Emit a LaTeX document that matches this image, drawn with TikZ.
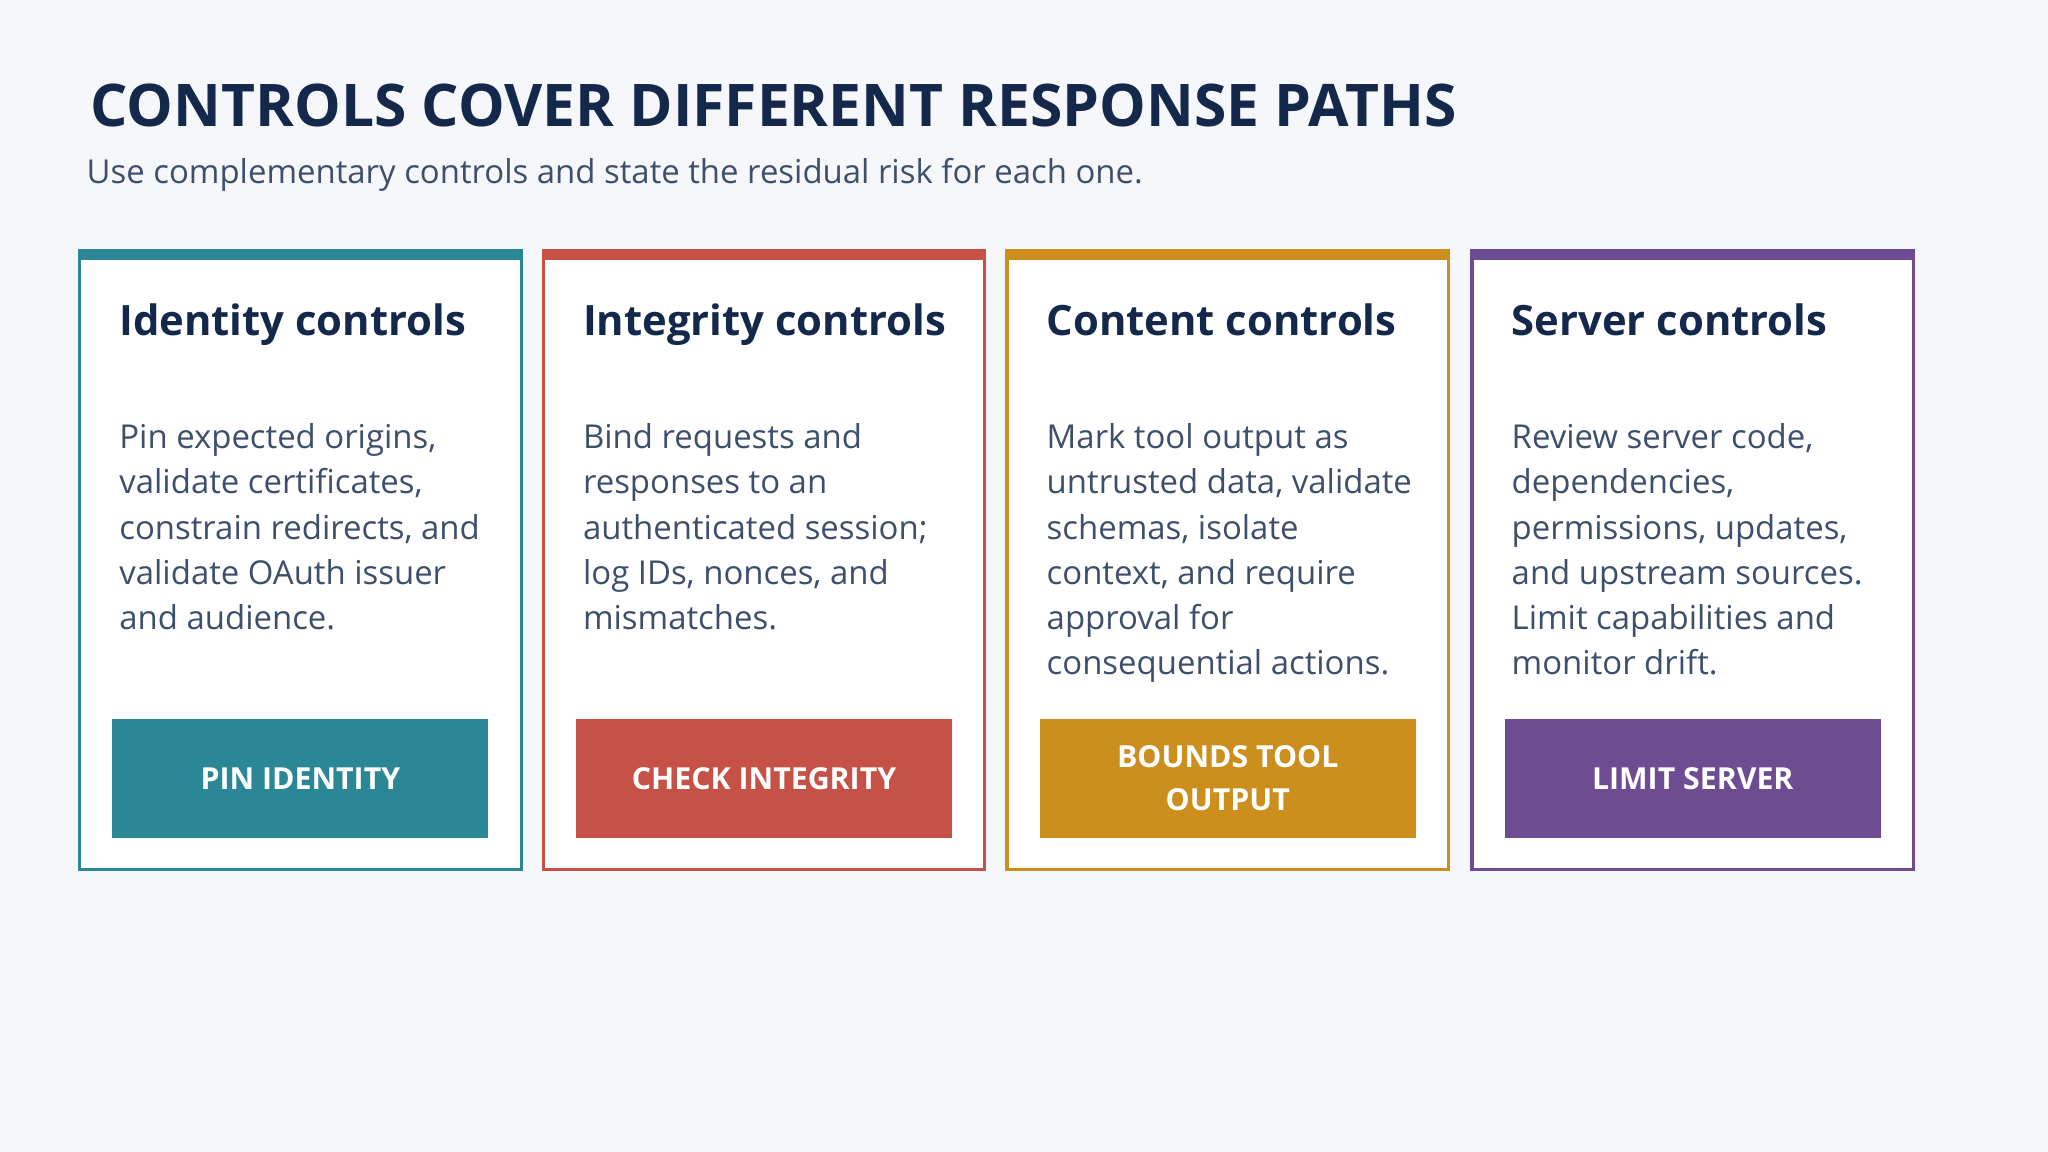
\documentclass[tikz,border=0pt]{standalone}
\usepackage{fontspec}
\setmainfont{Open Sans}
\definecolor{bgpage}{HTML}{F5F7FA}
\definecolor{navy}{HTML}{14284B}
\definecolor{bodytxt}{HTML}{3D4F6B}
\definecolor{cteal}{HTML}{2B8795}
\definecolor{cred}{HTML}{C65146}
\definecolor{camber}{HTML}{CC8F1E}
\definecolor{cpurple}{HTML}{6D4C91}
\tikzset{
  card/.style={draw=#1, line width=1.2pt, fill=white},
  cardhead/.style={anchor=base west, inner sep=0pt, font=\fontsize{16}{19}\selectfont\bfseries, text=navy},
  cardbody/.style={anchor=north west, inner sep=0pt, align=left, font=\fontsize{12.6}{17.3}\selectfont, text=bodytxt},
  cardbtn/.style={fill=#1, text=white, minimum width=144pt, minimum height=45.5pt, inner sep=0pt, align=center, font=\fontsize{11.6}{16.5}\selectfont\bfseries},
}
\begin{document}
\begin{tikzpicture}[x=0.5pt,y=0.5pt,yscale=-1]
\useasboundingbox[fill=bgpage] (0,0) rectangle (1568,882);

% Title
\node (title) [anchor=west, inner sep=0pt, font=\fontsize{22.5}{27}\selectfont\bfseries, text=navy] at (69,81) {CONTROLS COVER DIFFERENT RESPONSE PATHS};
\node (subtitle) [anchor=west, inner sep=0pt, font=\fontsize{12.6}{15}\selectfont, text=bodytxt] at (66,134) {Use complementary controls and state the residual risk for each one.};

% Cards
\foreach \x/\col/\nm/\head/\body/\btn in {
  61/cteal/ident/Identity controls/{Pin expected origins,\\validate certificates,\\constrain redirects, and\\validate OAuth issuer\\and audience.}/{PIN IDENTITY},
  416/cred/integ/Integrity controls/{Bind requests and\\responses to an\\authenticated session;\\log IDs, nonces, and\\mismatches.}/{CHECK INTEGRITY},
  771/camber/content/Content controls/{Mark tool output as\\untrusted data, validate\\schemas, isolate\\context, and require\\approval for\\consequential actions.}/{BOUNDS TOOL\\OUTPUT},
  1127/cpurple/server/Server controls/{Review server code,\\dependencies,\\permissions, updates,\\and upstream sources.\\Limit capabilities and\\monitor drift.}/{LIMIT SERVER}} {
  \draw [card=\col] (\x,193) rectangle ++(338,473);
  \fill [\col] (\x-1.2,191) rectangle ++(340.4,8);
  \node (\nm-head) [cardhead] at (\x+30,257) {\head};
  \node (\nm-body) [cardbody] at (\x+30,324) {\body};
  \node (\nm-btn) [cardbtn=\col] at (\x+169,596) {\btn};
}

\end{tikzpicture}
\end{document}
